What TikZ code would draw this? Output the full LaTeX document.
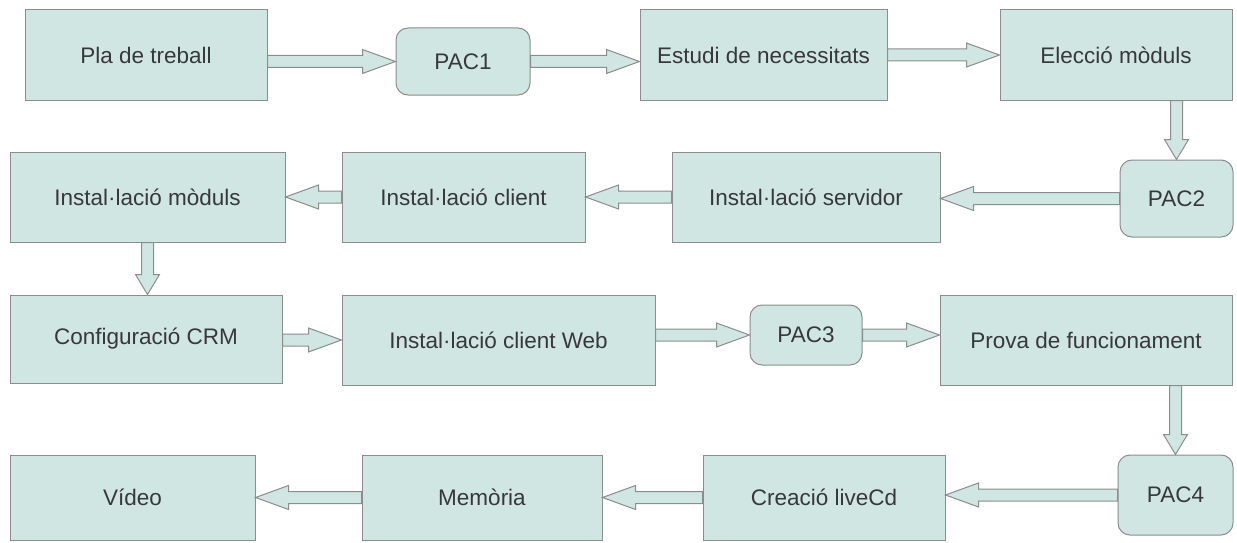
\documentclass[tikz,border=0pt]{standalone}
\usepackage{fontspec}
\setmainfont{Liberation Sans}
\usetikzlibrary{calc}

\definecolor{boxfill}{HTML}{CFE6E3}
\definecolor{boxline}{HTML}{8C8C8C}
\definecolor{boxtext}{HTML}{383838}

\tikzset{
	task/.style={draw=boxline, fill=boxfill, line width=1pt, text=boxtext,
		font=\fontsize{22.5}{27}\selectfont, inner sep=0pt},
	pac/.style={task, rounded corners=12pt},
	blockarr/.style={draw=boxline, fill=boxfill, line width=1pt, to path={
		($(\tikztostart)!6pt!90:(\tikztotarget)$)
		-- ($($(\tikztotarget)!#1!(\tikztostart)$)!6pt!90:(\tikztotarget)$)
		-- ($($(\tikztotarget)!#1!(\tikztostart)$)!12pt!90:(\tikztotarget)$)
		-- (\tikztotarget)
		-- ($($(\tikztotarget)!#1!(\tikztostart)$)!12pt!-90:(\tikztotarget)$)
		-- ($($(\tikztotarget)!#1!(\tikztostart)$)!6pt!-90:(\tikztotarget)$)
		-- ($(\tikztostart)!6pt!-90:(\tikztotarget)$) -- cycle}},
	blockarr/.default=33pt
}

\begin{document}
\begin{tikzpicture}[x=1pt,y=-1pt]
	\useasboundingbox (0,0) rectangle (1237,543);
	% first row
	\node[task, minimum width=242pt, minimum height=90pt] (pla) at (146,55) {Pla de treball};
	\node[pac, minimum width=134pt, minimum height=67pt] (pac1) at (463,61.5) {PAC1};
	\node[task, minimum width=247pt, minimum height=90pt] (estudi) at (763.5,55) {Estudi de necessitats};
	\node[task, minimum width=232pt, minimum height=90pt] (eleccio) at (1116,55) {Elecció mòduls};
	% second row
	\node[pac, minimum width=113pt, minimum height=77pt] (pac2) at (1176.5,198.5) {PAC2};
	\node[task, minimum width=268pt, minimum height=90pt] (servidor) at (806,197) {Instal·lació servidor};
	\node[task, minimum width=243pt, minimum height=90pt] (client) at (463.5,197) {Instal·lació client};
	\node[task, minimum width=275pt, minimum height=90pt] (moduls) at (147.5,197) {Instal·lació mòduls};
	% third row
	\node[task, minimum width=272pt, minimum height=88pt] (crm) at (146,339) {Configuració CRM};
	\node[task, minimum width=313pt, minimum height=90pt] (web) at (498.5,340) {Instal·lació client Web};
	\node[pac, minimum width=112pt, minimum height=60pt] (pac3) at (806,335) {PAC3};
	\node[task, minimum width=292pt, minimum height=90pt] (prova) at (1086,340) {Prova de funcionament};
	% fourth row
	\node[pac, minimum width=115pt, minimum height=80pt] (pac4) at (1175.5,495) {PAC4};
	\node[task, minimum width=242pt, minimum height=85pt] (creacio) at (824,497.5) {Creació liveCd};
	\node[task, minimum width=240pt, minimum height=85pt] (memoria) at (482,497.5) {Memòria};
	\node[task, minimum width=245pt, minimum height=85pt] (video) at (132.5,497.5) {Vídeo};

	\path (pla.east |- pac1.west) edge[blockarr] (pac1.west)
	(pac1.east) edge[blockarr] (estudi.west |- pac1.east)
	(estudi.east) edge[blockarr] (eleccio.west)
	(pac2.north |- eleccio.south) edge[blockarr=20pt] (pac2.north)
	(pac2.west) edge[blockarr] (servidor.east |- pac2.west)
	(servidor.west) edge[blockarr] (client.east)
	(client.west) edge[blockarr] (moduls.east)
	(moduls.south) edge[blockarr=20pt] (crm.north -| moduls.south)
	(crm.east |- web.west) edge[blockarr] (web.west)
	(web.east |- pac3.west) edge[blockarr] (pac3.west)
	(pac3.east) edge[blockarr] (prova.west |- pac3.east)
	(pac4.north |- prova.south) edge[blockarr=20pt] (pac4.north)
	(pac4.west) edge[blockarr] (creacio.east |- pac4.west)
	(creacio.west) edge[blockarr] (memoria.east)
	(memoria.west) edge[blockarr] (video.east)
	;
\end{tikzpicture}
\end{document}
